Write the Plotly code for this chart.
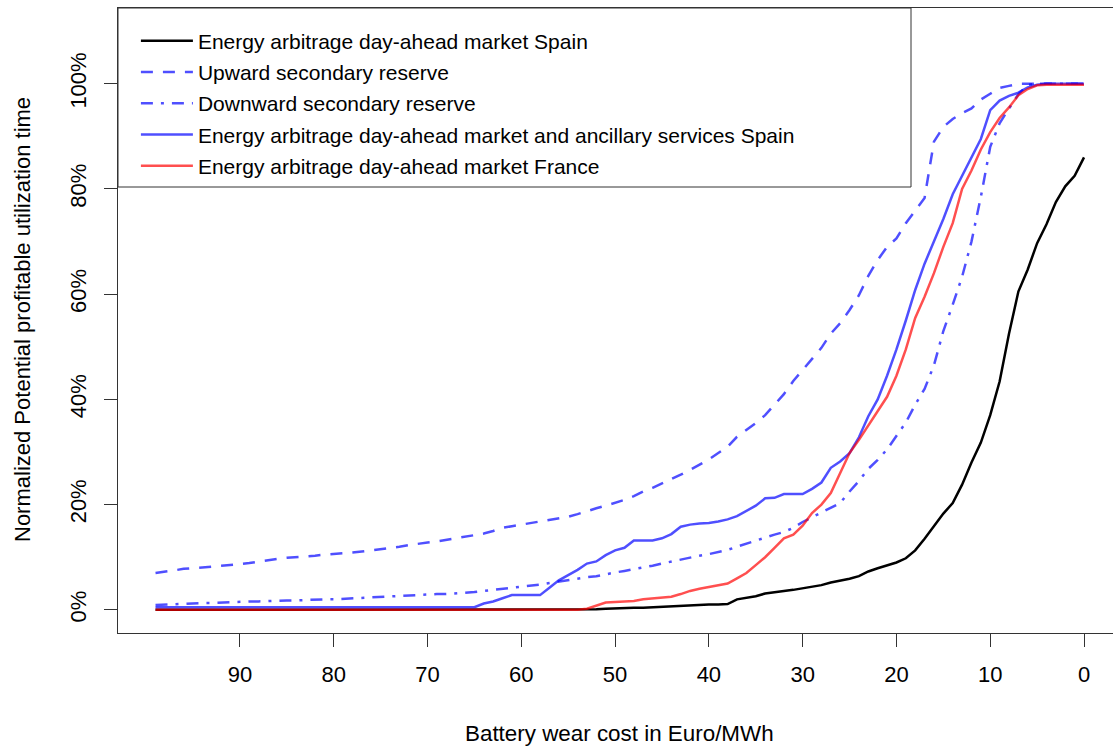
import plotly.graph_objects as go

# Battery wear cost (Euro/MWh), from 99 down to 0
cost = [99, 98, 97, 96, 95, 94, 93, 92, 91, 90,
        89, 88, 87, 86, 85, 84, 83, 82, 81, 80,
        79, 78, 77, 76, 75, 74, 73, 72, 71, 70,
        69, 68, 67, 66, 65, 64, 63, 62, 61, 60,
        59, 58, 57, 56, 55, 54, 53, 52, 51, 50,
        49, 48, 47, 46, 45, 44, 43, 42, 41, 40,
        39, 38, 37, 36, 35, 34, 33, 32, 31, 30,
        29, 28, 27, 26, 25, 24, 23, 22, 21, 20,
        19, 18, 17, 16, 15, 14, 13, 12, 11, 10,
        9, 8, 7, 6, 5, 4, 3, 2, 1, 0]

# Normalized potential profitable utilization time (%)
spain_da = [0, 0, 0, 0, 0, 0, 0, 0, 0, 0,
            0, 0, 0, 0, 0, 0, 0, 0, 0, 0,
            0, 0, 0, 0, 0, 0, 0, 0, 0, 0,
            0, 0, 0, 0, 0, 0, 0, 0, 0, 0,
            0, 0, 0, 0, 0, 0, 0, 0.1, 0.2, 0.3,
            0.3, 0.4, 0.4, 0.5, 0.5, 0.6, 0.7, 0.9, 1.0, 1.0,
            1.0, 1.1, 2.0, 2.3, 2.6, 3.1, 3.4, 3.6, 3.8, 4.1,
            4.4, 4.7, 5.2, 5.5, 5.9, 6.4, 7.3, 7.9, 8.5, 9.0,
            9.8, 11.3, 13.5, 15.8, 18.3, 20.3, 23.8, 28.0, 31.8, 37.0,
            43.4, 52.5, 60.5, 64.7, 69.7, 73.3, 77.5, 80.5, 82.5, 86.0]

upward = [7.0, 7.2, 7.5, 7.8, 7.9, 8.0, 8.2, 8.4, 8.5, 8.7,
          8.9, 9.2, 9.5, 9.7, 9.9, 10.0, 10.2, 10.3, 10.5, 10.6,
          10.8, 10.9, 11.1, 11.3, 11.5, 11.8, 12.0, 12.3, 12.6, 12.8,
          13.0, 13.3, 13.7, 14.0, 14.2, 14.5, 15.0, 15.6, 15.9, 16.2,
          16.6, 16.9, 17.1, 17.4, 17.7, 18.2, 18.8, 19.3, 19.8, 20.3,
          20.9, 21.6, 22.5, 23.2, 24.0, 24.8, 25.7, 26.6, 27.6, 28.6,
          29.8, 31.0, 32.9, 34.2, 35.5, 37.0, 39.0, 41.0, 43.5, 45.6,
          47.5, 49.8, 52.5, 54.5, 57.0, 59.8, 63.5, 66.5, 69.0, 70.6,
          73.5, 76.0, 78.3, 89.0, 91.8, 93.3, 94.4, 95.3, 97.0, 98.1,
          99.2, 99.6, 100, 100, 100, 100, 100, 100, 100, 100]

downward = [0.9, 1.0, 1.1, 1.1, 1.2, 1.3, 1.3, 1.4, 1.5, 1.5,
            1.6, 1.6, 1.7, 1.7, 1.8, 1.8, 1.9, 1.9, 2.0, 2.0,
            2.1, 2.1, 2.2, 2.3, 2.4, 2.5, 2.6, 2.8, 2.9, 2.9,
            3.0, 3.0, 3.1, 3.2, 3.4, 3.6, 3.8, 4.0, 4.1, 4.3,
            4.5, 4.8, 5.1, 5.4, 5.7, 6.0, 6.2, 6.4, 6.8, 7.1,
            7.4, 7.7, 8.0, 8.4, 8.8, 9.2, 9.6, 10.0, 10.3, 10.6,
            11.0, 11.4, 12.0, 12.6, 13.2, 13.8, 14.3, 14.8, 15.6, 16.7,
            17.6, 18.6, 19.4, 20.3, 22.5, 24.5, 26.8, 28.5, 30.5, 33.0,
            35.6, 39.0, 42.0, 46.5, 53.0, 58.0, 63.3, 70.0, 78.5, 88.0,
            92.5, 95.3, 98.0, 99.8, 100, 100, 100, 100, 100, 100]

spain_all = [0.5, 0.5, 0.5, 0.5, 0.5, 0.5, 0.5, 0.5, 0.5, 0.5,
             0.5, 0.5, 0.5, 0.5, 0.5, 0.5, 0.5, 0.5, 0.5, 0.5,
             0.5, 0.5, 0.5, 0.5, 0.5, 0.5, 0.5, 0.5, 0.5, 0.5,
             0.5, 0.5, 0.5, 0.5, 0.5, 1.2, 1.6, 2.2, 2.8, 2.8,
             2.8, 2.8, 4.2, 5.6, 6.6, 7.6, 8.8, 9.2, 10.4, 11.3,
             11.8, 13.2, 13.2, 13.2, 13.6, 14.4, 15.8, 16.2, 16.4, 16.5,
             16.8, 17.2, 17.8, 18.8, 19.8, 21.2, 21.3, 22.0, 22.0, 22.0,
             23.0, 24.2, 27.0, 28.2, 29.8, 32.8, 36.8, 40.0, 44.5, 49.5,
             55.0, 60.8, 65.8, 70.0, 74.3, 79.0, 82.5, 86.0, 89.5, 95.0,
             96.8, 97.7, 98.3, 99.3, 99.8, 100, 100, 100, 100, 100]

france_da = [0, 0, 0, 0, 0, 0, 0, 0, 0, 0,
             0, 0, 0, 0, 0, 0, 0, 0, 0, 0,
             0, 0, 0, 0, 0, 0, 0, 0, 0, 0,
             0, 0, 0, 0, 0, 0, 0, 0, 0, 0,
             0, 0, 0, 0, 0, 0, 0.2, 0.8, 1.4, 1.5,
             1.6, 1.7, 2.0, 2.2, 2.3, 2.5, 3.0, 3.6, 4.0, 4.3,
             4.6, 5.0, 6.0, 7.0, 8.5, 10.0, 11.8, 13.6, 14.3, 16.0,
             18.4, 20.0, 22.2, 26.0, 29.8, 32.3, 35.0, 37.6, 40.5, 44.5,
             49.5, 55.5, 59.5, 64.0, 69.0, 73.5, 80.0, 83.5, 87.5, 90.8,
             93.5, 95.5, 97.8, 99.0, 99.7, 99.8, 99.8, 99.8, 99.8, 99.8]

series_names = [
    "Energy arbitrage day-ahead market Spain",
    "Upward secondary reserve",
    "Downward secondary reserve",
    "Energy arbitrage day-ahead market and ancillary services Spain",
    "Energy arbitrage day-ahead market France",
]

x_ticks = [90, 80, 70, 60, 50, 40, 30, 20, 10, 0]
y_ticks = [0, 20, 40, 60, 80, 100]
y_tick_labels = ["0%", "20%", "40%", "60%", "80%", "100%"]
x_title = "Battery wear cost in Euro/MWh"
y_title = "Normalized Potential profitable utilization time"

FONT = "Liberation Sans, Arial, sans-serif"
BLUE = "rgba(0,0,255,0.69)"
RED = "rgba(255,0,0,0.69)"

styles = [
    dict(color="black", width=2.5, dash="solid"),
    dict(color=BLUE, width=2.5, dash="12px,10px"),
    dict(color=BLUE, width=2.5, dash="12px,8px,3px,8px"),
    dict(color=BLUE, width=2.5, dash="solid"),
    dict(color=RED, width=2.5, dash="solid"),
]
data = [spain_da, upward, downward, spain_all, france_da]

fig = go.Figure()
for i, (name, vals, st) in enumerate(zip(series_names, data, styles)):
    fig.add_trace(go.Scatter(x=cost, y=vals, mode="lines", name=name,
                             line=st, legendgroup="g%d" % i))

axis_color = "#333333"
L, T, B = 118, 8, 114
PW, PH = 1113 - L, 747 - T - B

fig.update_layout(
    width=1113, height=747,
    margin=dict(l=L, r=0, t=T, b=B, autoexpand=False),
    paper_bgcolor="white", plot_bgcolor="white",
    font=dict(family=FONT, color="black", size=22),
    showlegend=True,
    legend=dict(x=0.018, y=0.98, xanchor="left", yanchor="top",
                bgcolor="rgba(0,0,0,0)", borderwidth=0,
                font=dict(family=FONT, size=21, color="black"),
                tracegroupgap=1, itemwidth=52),
    xaxis=dict(range=[103, -3.09], tickmode="array", tickvals=x_ticks,
               ticktext=[str(v) for v in x_ticks], automargin=False,
               ticks="outside", ticklen=13, tickwidth=1, tickcolor=axis_color,
               showline=True, linecolor=axis_color, linewidth=1, mirror=True,
               showgrid=False, zeroline=False, tickfont=dict(size=22),
               ticklabelstandoff=9),
    yaxis=dict(range=[-4.4, 114.4], tickmode="array", tickvals=y_ticks,
               ticktext=y_tick_labels, tickangle=-90, automargin=False,
               ticks="outside", ticklen=13, tickwidth=1, tickcolor=axis_color,
               showline=True, linecolor=axis_color, linewidth=1, mirror=False,
               showgrid=False, zeroline=False, tickfont=dict(size=22),
               ticklabelstandoff=9),
)

fig.add_annotation(text=x_title, xref="paper", yref="paper",
                   x=(619.5 - L) / PW, y=(T + PH - 733) / PH,
                   xanchor="center", yanchor="middle", showarrow=False,
                   font=dict(size=22.4, family=FONT, color="black"))
fig.add_annotation(text=y_title, xref="paper", yref="paper",
                   x=(22 - L) / PW, y=(T + PH - 320) / PH, textangle=-90,
                   xanchor="center", yanchor="middle", showarrow=False,
                   font=dict(size=22, family=FONT, color="black"))

# legend box
fig.add_shape(type="rect", xref="paper", yref="paper",
              x0=0, x1=(911 - L) / PW, y0=(T + PH - 187) / PH, y1=1,
              line=dict(color=axis_color, width=1), fillcolor="white", layer="below")

fig.write_html("out.html", config={"displayModeBar": False},
               post_script="document.body.style.margin='0';document.body.style.overflow='hidden';")
